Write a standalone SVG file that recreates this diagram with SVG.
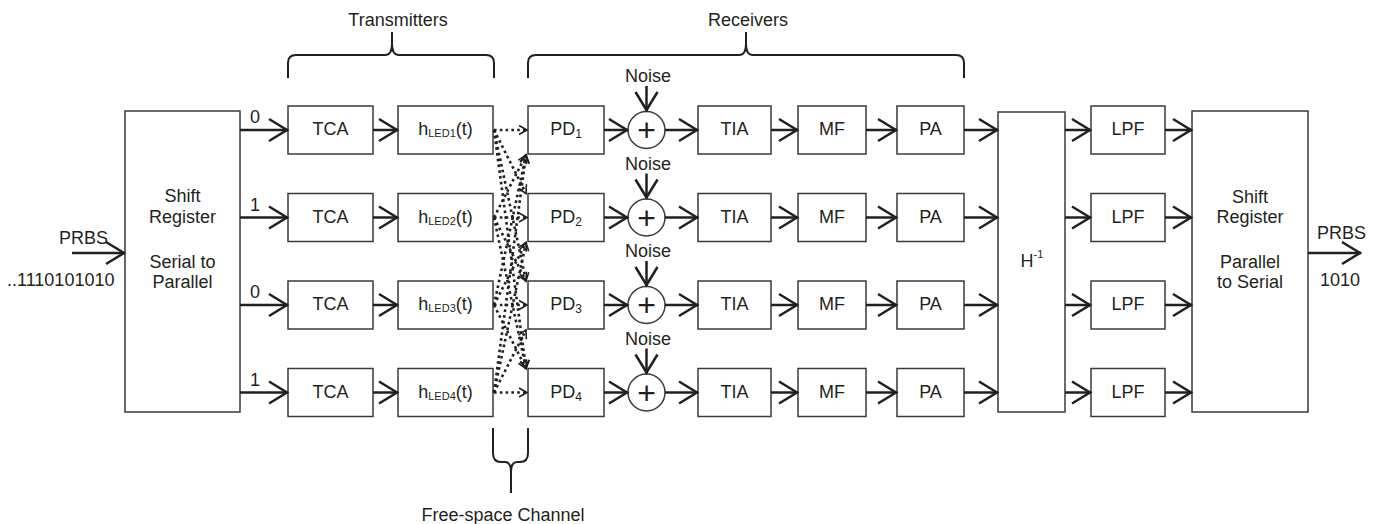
<svg xmlns="http://www.w3.org/2000/svg" width="1382" height="524" viewBox="0 0 1382 524">
  <style>
    text { font-family: "Liberation Sans", Arial, sans-serif; font-size: 18px; fill: #231f20; }
    .c { text-anchor: middle; }
    .plus { font-size: 32px; }
    .box { fill: #fff; stroke: #3a3a3a; stroke-width: 1.5; }
    .wire { fill: none; stroke: #231f20; stroke-width: 2.5; marker-end: url(#arr); }
    .dot { fill: none; stroke: #231f20; stroke-width: 2.6; stroke-dasharray: 2.6 3.2; marker-end: url(#arrS); }
    .brace { fill: none; stroke: #231f20; stroke-width: 2; }
    .sub { font-size: 11px; }
    .subpd { font-size: 12px; }
  </style>
  <defs>
    <marker id="arr" markerUnits="userSpaceOnUse" markerWidth="26" markerHeight="26" refX="22" refY="12" orient="auto" overflow="visible">
      <path d="M3,1 L21,12 L3,23" fill="none" stroke="#231f20" stroke-width="2.5"/>
    </marker>
    <marker id="arrS" markerUnits="userSpaceOnUse" markerWidth="12" markerHeight="12" refX="9" refY="5" orient="auto" overflow="visible">
      <path d="M1,0.5 L9,5 L1,9.5" fill="none" stroke="#231f20" stroke-width="1.6" stroke-dasharray="none"/>
    </marker>
  </defs>

  <!-- group labels and braces -->
  <g id="transmitters">
    <text class="c" x="398" y="26">Transmitters</text>
    <path class="brace" d="M288,78 V63 Q288,55 296,55 H385 Q392,55 392,44 V32 M392,32 V44 Q392,55 399,55 H486 Q494,55 494,63 V78"/>
  </g>
  <g id="receivers">
    <text class="c" x="748" y="26">Receivers</text>
    <path class="brace" d="M528,78 V63 Q528,55 536,55 H739 Q746,55 746,44 V32 M746,32 V44 Q746,55 753,55 H956 Q964,55 964,63 V78"/>
  </g>
  <g id="free-space-channel">
    <path class="brace" d="M493,428 V453 Q493,462 501,462 H505 Q511,462 511,472 V493 M511,493 V472 Q511,462 517,462 H520 Q528,462 528,453 V428"/>
    <text class="c" x="503" y="521">Free-space Channel</text>
  </g>

  <!-- serial to parallel -->
  <g id="sr-in">
    <rect class="box" x="125" y="111" width="115" height="301"/>
    <text class="c" x="182.5" y="202">Shift</text>
    <text class="c" x="182.5" y="223">Register</text>
    <text class="c" x="182.5" y="268">Serial to</text>
    <text class="c" x="182.5" y="288">Parallel</text>
  </g>
  <g id="input-label">
    <text x="59" y="244">PRBS</text>
    <text x="7" y="286">..1110101010</text>
  </g>

  <!-- bit labels -->
  <g id="bits">
    <text class="c" x="255" y="123">0</text>
    <text class="c" x="255" y="210.5">1</text>
    <text class="c" x="255" y="298">0</text>
    <text class="c" x="255" y="385.5">1</text>
  </g>

  <!-- transmitter chains -->
  <g id="tca1"><rect class="box" x="288" y="106" width="85" height="48"/><text class="c" x="330.5" y="135">TCA</text></g>
  <g id="tca2"><rect class="box" x="288" y="193.5" width="85" height="48"/><text class="c" x="330.5" y="222.5">TCA</text></g>
  <g id="tca3"><rect class="box" x="288" y="281" width="85" height="48"/><text class="c" x="330.5" y="310">TCA</text></g>
  <g id="tca4"><rect class="box" x="288" y="368.5" width="85" height="48"/><text class="c" x="330.5" y="397.5">TCA</text></g>

  <g id="led1"><rect class="box" x="398" y="106" width="95" height="48"/><text class="c" x="445.5" y="135">h<tspan class="sub" dy="2">LED1</tspan><tspan dy="-2">(t)</tspan></text></g>
  <g id="led2"><rect class="box" x="398" y="193.5" width="95" height="48"/><text class="c" x="445.5" y="222.5">h<tspan class="sub" dy="2">LED2</tspan><tspan dy="-2">(t)</tspan></text></g>
  <g id="led3"><rect class="box" x="398" y="281" width="95" height="48"/><text class="c" x="445.5" y="310">h<tspan class="sub" dy="2">LED3</tspan><tspan dy="-2">(t)</tspan></text></g>
  <g id="led4"><rect class="box" x="398" y="368.5" width="95" height="48"/><text class="c" x="445.5" y="397.5">h<tspan class="sub" dy="2">LED4</tspan><tspan dy="-2">(t)</tspan></text></g>

  <!-- receiver chains -->
  <g id="pd1"><rect class="box" x="528" y="106" width="76" height="48"/><text class="c" x="566" y="135">PD<tspan class="subpd" dy="3">1</tspan></text></g>
  <g id="pd2"><rect class="box" x="528" y="193.5" width="76" height="48"/><text class="c" x="566" y="222.5">PD<tspan class="subpd" dy="3">2</tspan></text></g>
  <g id="pd3"><rect class="box" x="528" y="281" width="76" height="48"/><text class="c" x="566" y="310">PD<tspan class="subpd" dy="3">3</tspan></text></g>
  <g id="pd4"><rect class="box" x="528" y="368.5" width="76" height="48"/><text class="c" x="566" y="397.5">PD<tspan class="subpd" dy="3">4</tspan></text></g>

  <g id="sum1"><text class="c" x="648" y="82">Noise</text><circle class="box" cx="646.5" cy="130" r="18.5"/><text class="c plus" x="646.5" y="141">+</text></g>
  <g id="sum2"><text class="c" x="648" y="169.5">Noise</text><circle class="box" cx="646.5" cy="217.5" r="18.5"/><text class="c plus" x="646.5" y="228.5">+</text></g>
  <g id="sum3"><text class="c" x="648" y="257">Noise</text><circle class="box" cx="646.5" cy="305" r="18.5"/><text class="c plus" x="646.5" y="316">+</text></g>
  <g id="sum4"><text class="c" x="648" y="344.5">Noise</text><circle class="box" cx="646.5" cy="392.5" r="18.5"/><text class="c plus" x="646.5" y="403.5">+</text></g>

  <g id="tia1"><rect class="box" x="698" y="106" width="73" height="48"/><text class="c" x="734.5" y="135">TIA</text></g>
  <g id="tia2"><rect class="box" x="698" y="193.5" width="73" height="48"/><text class="c" x="734.5" y="222.5">TIA</text></g>
  <g id="tia3"><rect class="box" x="698" y="281" width="73" height="48"/><text class="c" x="734.5" y="310">TIA</text></g>
  <g id="tia4"><rect class="box" x="698" y="368.5" width="73" height="48"/><text class="c" x="734.5" y="397.5">TIA</text></g>

  <g id="mf1"><rect class="box" x="798" y="106" width="68" height="48"/><text class="c" x="832" y="135">MF</text></g>
  <g id="mf2"><rect class="box" x="798" y="193.5" width="68" height="48"/><text class="c" x="832" y="222.5">MF</text></g>
  <g id="mf3"><rect class="box" x="798" y="281" width="68" height="48"/><text class="c" x="832" y="310">MF</text></g>
  <g id="mf4"><rect class="box" x="798" y="368.5" width="68" height="48"/><text class="c" x="832" y="397.5">MF</text></g>

  <g id="pa1"><rect class="box" x="897" y="106" width="67" height="48"/><text class="c" x="930.5" y="135">PA</text></g>
  <g id="pa2"><rect class="box" x="897" y="193.5" width="67" height="48"/><text class="c" x="930.5" y="222.5">PA</text></g>
  <g id="pa3"><rect class="box" x="897" y="281" width="67" height="48"/><text class="c" x="930.5" y="310">PA</text></g>
  <g id="pa4"><rect class="box" x="897" y="368.5" width="67" height="48"/><text class="c" x="930.5" y="397.5">PA</text></g>

  <!-- channel inversion -->
  <g id="hinv">
    <rect class="box" x="998" y="112" width="67" height="300"/>
    <text class="c" x="1032" y="267">H<tspan class="sub" dy="-9">-1</tspan></text>
  </g>

  <g id="lpf1"><rect class="box" x="1091" y="106" width="74" height="48"/><text class="c" x="1128" y="135">LPF</text></g>
  <g id="lpf2"><rect class="box" x="1091" y="193.5" width="74" height="48"/><text class="c" x="1128" y="222.5">LPF</text></g>
  <g id="lpf3"><rect class="box" x="1091" y="281" width="74" height="48"/><text class="c" x="1128" y="310">LPF</text></g>
  <g id="lpf4"><rect class="box" x="1091" y="368.5" width="74" height="48"/><text class="c" x="1128" y="397.5">LPF</text></g>

  <!-- parallel to serial -->
  <g id="sr-out">
    <rect class="box" x="1192" y="111" width="116" height="301"/>
    <text class="c" x="1250" y="203">Shift</text>
    <text class="c" x="1250" y="223">Register</text>
    <text class="c" x="1250" y="268">Parallel</text>
    <text class="c" x="1250" y="288">to Serial</text>
  </g>
  <g id="output-label">
    <text x="1317" y="239">PRBS</text>
    <text x="1320" y="286">1010</text>
  </g>

  <!-- connectors -->
  <g id="connectors">
    <path class="wire" d="M72,253 H125"/>
    <path class="wire" d="M1308,253 H1361"/>

    <path class="wire" d="M240,130 H288"/>
    <path class="wire" d="M240,217.5 H288"/>
    <path class="wire" d="M240,305 H288"/>
    <path class="wire" d="M240,392.5 H288"/>

    <path class="wire" d="M373,130 H398"/>
    <path class="wire" d="M373,217.5 H398"/>
    <path class="wire" d="M373,305 H398"/>
    <path class="wire" d="M373,392.5 H398"/>

    <path class="wire" d="M604,130 H628"/>
    <path class="wire" d="M604,217.5 H628"/>
    <path class="wire" d="M604,305 H628"/>
    <path class="wire" d="M604,392.5 H628"/>

    <path class="wire" d="M646.5,86 V111"/>
    <path class="wire" d="M646.5,173.5 V198.5"/>
    <path class="wire" d="M646.5,261 V286"/>
    <path class="wire" d="M646.5,348.5 V373.5"/>

    <path class="wire" d="M665,130 H698"/>
    <path class="wire" d="M665,217.5 H698"/>
    <path class="wire" d="M665,305 H698"/>
    <path class="wire" d="M665,392.5 H698"/>

    <path class="wire" d="M771,130 H798"/>
    <path class="wire" d="M771,217.5 H798"/>
    <path class="wire" d="M771,305 H798"/>
    <path class="wire" d="M771,392.5 H798"/>

    <path class="wire" d="M866,130 H897"/>
    <path class="wire" d="M866,217.5 H897"/>
    <path class="wire" d="M866,305 H897"/>
    <path class="wire" d="M866,392.5 H897"/>

    <path class="wire" d="M964,130 H998"/>
    <path class="wire" d="M964,217.5 H998"/>
    <path class="wire" d="M964,305 H998"/>
    <path class="wire" d="M964,392.5 H998"/>

    <path class="wire" d="M1065,130 H1091"/>
    <path class="wire" d="M1065,217.5 H1091"/>
    <path class="wire" d="M1065,305 H1091"/>
    <path class="wire" d="M1065,392.5 H1091"/>

    <path class="wire" d="M1165,130 H1192"/>
    <path class="wire" d="M1165,217.5 H1192"/>
    <path class="wire" d="M1165,305 H1192"/>
    <path class="wire" d="M1165,392.5 H1192"/>

    <!-- optical links: every LED to every photodiode -->
    <path class="dot" d="M494,130 L527,130"/>
    <path class="dot" d="M494,130 L526,193.5"/>
    <path class="dot" d="M494,130 L526,281"/>
    <path class="dot" d="M494,130 L526,368.5"/>

    <path class="dot" d="M494,217.5 L526,155"/>
    <path class="dot" d="M494,217.5 L527,217.5"/>
    <path class="dot" d="M494,217.5 L526,281"/>
    <path class="dot" d="M494,217.5 L526,368.5"/>

    <path class="dot" d="M494,305 L526,155"/>
    <path class="dot" d="M494,305 L526,242.5"/>
    <path class="dot" d="M494,305 L527,305"/>
    <path class="dot" d="M494,305 L526,368.5"/>

    <path class="dot" d="M494,392.5 L526,155"/>
    <path class="dot" d="M494,392.5 L526,242.5"/>
    <path class="dot" d="M494,392.5 L526,330"/>
    <path class="dot" d="M494,392.5 L527,392.5"/>
  </g>
</svg>
